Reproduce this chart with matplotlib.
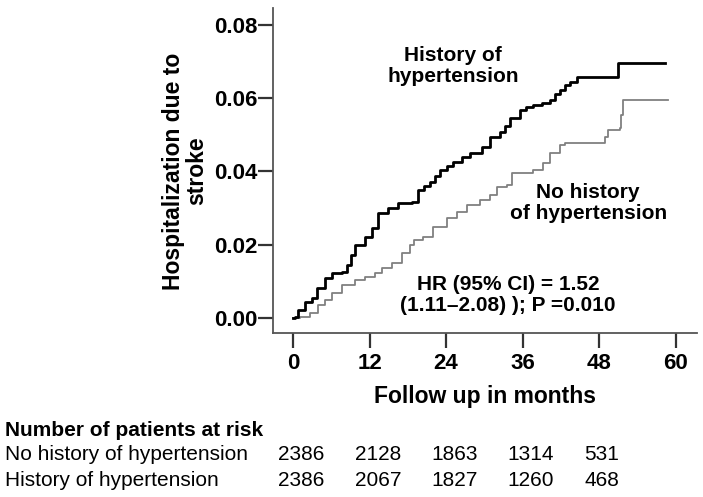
import matplotlib
matplotlib.use("Agg")
import matplotlib.pyplot as plt
from matplotlib.transforms import blended_transform_factory

plt.rcParams['font.family'] = ['Liberation Sans', 'DejaVu Sans']

# krzywa - historia nadcisnienia
months_htn = [0, 0.3, 0.8, 1.9, 3.0, 3.8, 5.0, 6.1, 7.7, 8.5, 9.1, 9.7, 11.3, 12.4,
              13.3, 14.9, 16.5, 18.7, 19.6, 20.5, 21.5, 22.3, 23.1, 24.1, 25.1, 26.5,
              27.8, 29.6, 30.9, 32.5, 33.2, 34.0, 35.6, 36.6, 37.6, 39.0, 40.3, 41.1,
              41.9, 42.7, 43.5, 44.5, 51.0, 58.4]
cum_htn = [0, 0.0003, 0.0022, 0.0044, 0.0055, 0.0082, 0.0109, 0.0123, 0.0126, 0.0145,
           0.0172, 0.0199, 0.0221, 0.0246, 0.0287, 0.0300, 0.0314, 0.0317, 0.0349,
           0.0360, 0.0371, 0.0388, 0.0404, 0.0415, 0.0426, 0.0438, 0.0450, 0.0467,
           0.0494, 0.0508, 0.0524, 0.0545, 0.0568, 0.0575, 0.0581, 0.0588, 0.0595,
           0.0610, 0.0622, 0.0635, 0.0644, 0.0658, 0.0696, 0.0696]

# krzywa - brak historii nadcisnienia
months_no = [0, 1.1, 2.7, 3.9, 5.0, 6.1, 7.7, 9.7, 11.3, 12.9, 14.0, 15.5, 17.1, 18.4,
             19.0, 20.4, 22.0, 24.2, 25.8, 27.3, 29.3, 30.9, 32.0, 33.6, 34.4, 37.6,
             39.2, 40.3, 41.9, 42.7, 48.6, 48.9, 49.4, 51.3, 51.5, 51.7, 58.8]
cum_no = [0, 0.0003, 0.0014, 0.0035, 0.0049, 0.0068, 0.0090, 0.0104, 0.0112, 0.0123,
          0.0137, 0.0150, 0.0177, 0.0199, 0.0213, 0.0221, 0.0248, 0.0273, 0.0290,
          0.0308, 0.0322, 0.0336, 0.0358, 0.0363, 0.0396, 0.0404, 0.0423, 0.0450,
          0.0472, 0.0478, 0.0478, 0.0494, 0.0513, 0.0519, 0.0554, 0.0595, 0.0595]

risk_months = [0, 12, 24, 36, 48]
risk_no = [2386, 2128, 1863, 1314, 531]
risk_htn = [2386, 2067, 1827, 1260, 468]

W, H = 703, 497
fig = plt.figure(figsize=(W / 100, H / 100), dpi=100)
ax = fig.add_axes([273 / W, 1 - 333 / H, 424 / W, 325 / H])

ax.step(months_no, cum_no, where='post', color='#808080', lw=1.3)
ax.step(months_htn, cum_htn, where='post', color='black', lw=2.0)

ax.set_xlim(-3.14, 63.37)
ax.set_ylim(-0.0041, 0.0846)
ax.set_xticks([0, 12, 24, 36, 48, 60])
ax.set_yticks([0.0, 0.02, 0.04, 0.06, 0.08])
ax.set_yticklabels(['0.00', '0.02', '0.04', '0.06', '0.08'])

for s in ['top', 'right']:
    ax.spines[s].set_visible(False)
for s in ['left', 'bottom']:
    ax.spines[s].set_color('#555555')
    ax.spines[s].set_linewidth(1.3)
ax.tick_params(axis='both', direction='out', length=10.5, width=1.6, color='#333333',
               labelsize=16)
ax.tick_params(axis='y', pad=1)
ax.tick_params(axis='x', pad=4)
for lab in ax.get_xticklabels() + ax.get_yticklabels():
    lab.set_fontweight('bold')

# opisy krzywych
ax.text(25.1, 0.0688, 'History of\nhypertension', ha='center', va='center',
        fontsize=15, fontweight='bold', linespacing=1.15)
ax.text(46.3, 0.0314, 'No history\nof hypertension', ha='center', va='center',
        fontsize=15, fontweight='bold', linespacing=1.15)
ax.text(33.7, 0.0063, 'HR (95% CI) = 1.52\n(1.11\u20132.08) ); P =0.010', ha='center',
        va='center', fontsize=15, fontweight='bold', linespacing=1.15)

fig.text(185 / W, 1 - 171 / H, 'Hospitalization due to\nstroke', rotation=90,
         ha='center', va='center', fontsize=16.5, fontweight='bold', linespacing=1.05)
fig.text(485 / W, 1 - 397 / H, 'Follow up in months', ha='center', va='center',
         fontsize=16.5, fontweight='bold')

# tabela pacjentow w ryzyku
fig.text(5 / W, 1 - 430 / H, 'Number of patients at risk', ha='left', va='center',
         fontsize=15, fontweight='bold')
fig.text(5 / W, 1 - 455 / H, 'No history of hypertension', ha='left', va='center',
         fontsize=15)
fig.text(5 / W, 1 - 480 / H, 'History of hypertension', ha='left', va='center',
         fontsize=15)
tr = blended_transform_factory(ax.transData, fig.transFigure)
for m, a, b in zip(risk_months, risk_no, risk_htn):
    ax.text(m - 2.3, 1 - 455 / H, str(a), transform=tr, ha='left', va='center',
            fontsize=15, clip_on=False)
    ax.text(m - 2.3, 1 - 480 / H, str(b), transform=tr, ha='left', va='center',
            fontsize=15, clip_on=False)

fig.savefig('out.png', dpi=100)
